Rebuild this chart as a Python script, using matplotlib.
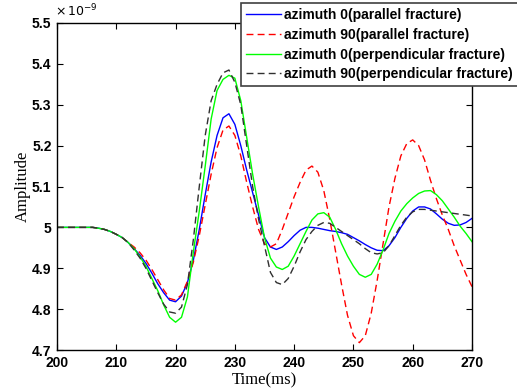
import matplotlib
matplotlib.use("Agg")
import matplotlib.pyplot as plt
from matplotlib.ticker import FixedLocator, FuncFormatter

time_ms = list(range(200, 271))

common = [5.0, 5.0, 5.0, 5.0, 5.0, 5.0, 5.0, 4.998, 4.995, 4.99, 4.983, 4.975, 4.963]

az0_par = common + [
    4.948, 4.932, 4.912, 4.888, 4.862, 4.84, 4.822, 4.818, 4.832, 4.865,
    4.92, 4.995, 5.08, 5.16, 5.225, 5.268, 5.278, 5.252, 5.2, 5.14,
    5.085, 5.03, 4.975, 4.952, 4.946, 4.952, 4.965, 4.98, 4.993, 5.0,
    5.0, 4.998, 4.995, 4.992, 4.99, 4.987, 4.983, 4.975, 4.967, 4.958,
    4.95, 4.944, 4.943, 4.955, 4.975, 5.0, 5.022, 5.04, 5.05, 5.05,
    5.045, 5.033, 5.02, 5.01, 5.005, 5.006, 5.012, 5.022]

az90_par = common + [
    4.952, 4.938, 4.92, 4.897, 4.872, 4.847, 4.826, 4.822, 4.835, 4.868,
    4.915, 4.98, 5.055, 5.13, 5.195, 5.238, 5.248, 5.225, 5.175, 5.11,
    5.05, 4.995, 4.96, 4.952, 4.96, 4.995, 5.035, 5.075, 5.11, 5.14,
    5.15, 5.135, 5.09, 5.02, 4.94, 4.86, 4.785, 4.735, 4.718, 4.735,
    4.79, 4.87, 4.96, 5.05, 5.12, 5.175, 5.205, 5.214, 5.2, 5.165,
    5.115, 5.07, 5.03, 4.995, 4.955, 4.92, 4.885, 4.855]

az0_perp = common + [
    4.948, 4.928, 4.905, 4.875, 4.845, 4.81, 4.78, 4.768, 4.78, 4.83,
    4.94, 5.04, 5.15, 5.265, 5.335, 5.362, 5.372, 5.365, 5.31, 5.22,
    5.13, 5.05, 4.975, 4.925, 4.903, 4.897, 4.905, 4.93, 4.96, 4.99,
    5.018, 5.033, 5.036, 5.025, 4.995, 4.96, 4.93, 4.905, 4.885, 4.878,
    4.885, 4.91, 4.945, 4.985, 5.015, 5.04, 5.058, 5.072, 5.083, 5.089,
    5.09, 5.08, 5.065, 5.045, 5.025, 5.003, 4.985, 4.965]

az90_perp = common + [
    4.945, 4.925, 4.9, 4.87, 4.84, 4.812, 4.793, 4.79, 4.805, 4.86,
    4.97, 5.1, 5.225, 5.31, 5.35, 5.378, 5.385, 5.355, 5.3, 5.2,
    5.1, 5.02, 4.955, 4.89, 4.865, 4.86, 4.875, 4.905, 4.94, 4.97,
    4.99, 5.005, 5.012, 5.01, 5.0, 4.99, 4.98, 4.97, 4.96, 4.948,
    4.938, 4.935, 4.938, 4.955, 4.98, 5.005, 5.025, 5.038, 5.044, 5.044,
    5.042, 5.04, 5.038, 5.036, 5.034, 5.032, 5.03, 5.028]

labels = ["azimuth 0(parallel fracture)", "azimuth 90(parallel fracture)",
          "azimuth 0(perpendicular fracture)", "azimuth 90(perpendicular fracture)"]
x_ticks = [200, 210, 220, 230, 240, 250, 260, 270]
y_ticks = [4.7, 4.8, 4.9, 5.0, 5.1, 5.2, 5.3, 5.4, 5.5]

W, H = 517, 391
fig = plt.figure(figsize=(W / 100, H / 100), dpi=100)
fig.patch.set_facecolor("white")
ax = fig.add_axes([57 / W, 1 - 350 / H, (472 - 57) / W, (350 - 23) / H])

sans = ["Liberation Sans", "DejaVu Sans"]
serif = ["Liberation Serif", "DejaVu Serif"]

ax.plot(time_ms, az0_par, color="#0000ff", lw=1.0, label=labels[0])
ax.plot(time_ms, az90_par, color="#ff0000", lw=1.0, dashes=(5, 3), label=labels[1])
ax.plot(time_ms, az0_perp, color="#00ff00", lw=1.0, label=labels[2])
ax.plot(time_ms, az90_perp, color="#303030", lw=1.0, dashes=(5, 3), label=labels[3])

ax.set_xlim(200, 270)
ax.set_ylim(4.7, 5.5)
ax.xaxis.set_major_locator(FixedLocator(x_ticks))
ax.yaxis.set_major_locator(FixedLocator(y_ticks))
ax.yaxis.set_major_formatter(FuncFormatter(lambda v, p: "%g" % round(v, 3)))
ax.tick_params(direction="in", length=4, width=0.8, top=True, right=True, pad=4)
for lab in ax.get_xticklabels() + ax.get_yticklabels():
    lab.set_family(sans)
    lab.set_fontweight("bold")
    lab.set_fontsize(10)
for s in ax.spines.values():
    s.set_linewidth(1.0)
    s.set_color("black")

ax.set_xlabel("Time(ms)", family=serif, fontsize=12, labelpad=2)
ax.set_ylabel("Amplitude", family=serif, fontsize=12, labelpad=1)

ax.text(-0.005, 1.012, r"$\times\,10^{-9}$", transform=ax.transAxes, ha="left", va="bottom",
        fontsize=9, family=sans, fontweight="bold")

leg = ax.legend(loc="upper left", bbox_to_anchor=(241 / W, 1 - 3 / H),
                bbox_transform=fig.transFigure, frameon=True, fancybox=False,
                prop={"family": sans, "weight": "bold", "size": 10},
                handlelength=2.5, handletextpad=0.25, labelspacing=0.42,
                borderpad=0.35, borderaxespad=0.0)
leg.get_frame().set_edgecolor("#404040")
leg.get_frame().set_linewidth(1.2)
leg.get_frame().set_alpha(1.0)

fig.savefig("out.png", dpi=100, facecolor="white")
